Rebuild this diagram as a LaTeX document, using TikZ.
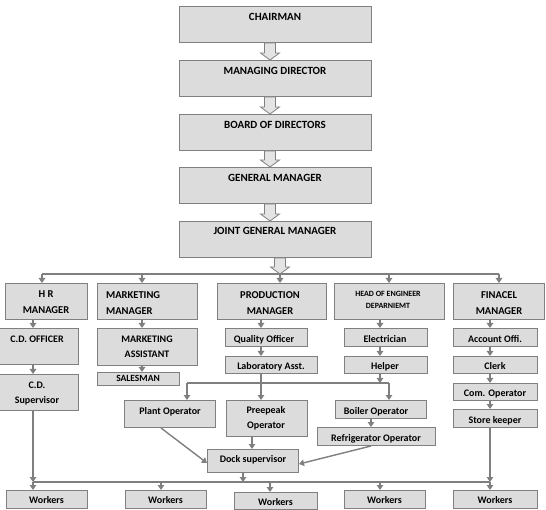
\documentclass[tikz,border=0pt]{standalone}
\usepackage{fontspec}
\setmainfont{Carlito}
\usetikzlibrary{arrows.meta,calc}
\definecolor{boxfill}{HTML}{DCDCDC}
\definecolor{boxline}{HTML}{808080}
\definecolor{lineclr}{HTML}{7F7F7F}
\definecolor{arrfill}{HTML}{E4E4E4}
\newcommand\bx[5]{\node[box,minimum width={(#4-#2)*1pt},minimum height={(#5-#3)*1pt}] (#1) at (#2,#3) {};}
\newcommand\blockarr[2]{\draw[barr] let \p1=(#1),\p2=(#2) in
  (\x1-5.5pt,\y1) -- (\x1+5.5pt,\y1) -- (\x1+5.5pt,\y2+7pt) -- (\x1+9.5pt,\y2+7pt) -- (\x2,\y2)
  -- (\x1-9.5pt,\y2+7pt) -- (\x1-5.5pt,\y2+7pt) -- cycle;}
\begin{document}
\begin{tikzpicture}[x=1pt,y=-1pt,
  box/.style={draw=boxline,fill=boxfill,line width=1pt,inner sep=0pt,anchor=north west},
  big/.style={font=\bfseries\fontsize{11}{16}\selectfont,align=center,inner sep=0pt},
  sm/.style={font=\bfseries\fontsize{10}{14.5}\selectfont,align=center,inner sep=0pt},
  one/.style={text height=6.7pt,text depth=0pt},
  conn/.style={draw=lineclr,line width=1.4pt,-{Triangle[width=6.5pt,length=5pt]}},
  plain/.style={draw=lineclr,line width=1.4pt},
  barr/.style={draw=boxline,fill=arrfill,line width=0.8pt}]
\useasboundingbox (0,0) rectangle (546,510);
% columns
\coordinate (cA) at (270,0);
\coordinate (cB) at (280,0);
\coordinate (cHR) at (42,0);
\coordinate (cMK) at (142,0);
\coordinate (cHE) at (389,0);
\coordinate (cFI) at (499,0);
\coordinate (c33) at (33,0);
\coordinate (c261) at (261,0);
\coordinate (c380) at (380,0);
\coordinate (c490) at (490,0);
\coordinate (c187) at (187,0);
\coordinate (c371) at (371,0);
\coordinate (c252) at (252,0);
\coordinate (c243) at (243,0);
\coordinate (c161) at (161,0);
% boxes
\bx{chair}{179}{6}{371}{42}
\bx{md}{179}{60}{371}{96}
\bx{bod}{179}{114}{371}{150}
\bx{gm}{179}{167}{371}{203}
\bx{jgm}{179}{221}{371}{257}
\bx{hr}{5}{283}{87}{319}
\bx{mkt}{97}{283}{197}{319}
\bx{prod}{217}{283}{326}{319}
\bx{head}{334}{283}{444}{319}
\bx{fin}{453}{283}{544}{319}
\bx{cdo}{-1}{328}{78}{364}
\bx{mka}{97}{328}{197}{365}
\bx{qo}{225}{328}{307}{346}
\bx{ele}{344}{328}{427}{346}
\bx{acc}{453}{328}{537}{346}
\bx{cds}{-1}{374}{78}{410}
\bx{sal}{97}{372}{179}{385}
\bx{lab}{225}{356}{317}{373}
\bx{hel}{344}{356}{427}{373}
\bx{clk}{453}{356}{537}{373}
\bx{com}{453}{383}{537}{400}
\bx{plant}{124}{400}{215}{427}
\bx{pre}{226}{400}{307}{436}
\bx{boil}{335}{400}{426}{418}
\bx{store}{453}{409}{537}{427}
\bx{refr}{317}{427}{435}{445}
\bx{dock}{207}{449}{298}{472}
\bx{w1}{6}{490}{87}{508}
\bx{w2}{125}{490}{206}{508}
\bx{w3}{234}{492}{317}{509}
\bx{w4}{344}{490}{425}{508}
\bx{w5}{453}{490}{537}{508}
% texts
\node[big,one,text height=7pt] (chair-t) at (275,17) {CHAIRMAN};
\node[big,one,text height=7pt] (md-t) at (275,71) {MANAGING DIRECTOR};
\node[big,one,text height=7pt] (bod-t) at (275,125) {BOARD OF DIRECTORS};
\node[big,one,text height=7pt] (gm-t) at (275,178) {GENERAL MANAGER};
\node[big,one,text height=7pt] (jgm-t) at (275,231) {JOINT GENERAL MANAGER};
\node[big,font=\bfseries\fontsize{10.5}{16}\selectfont] (hr-t) at (46,302.5) {H R\\MANAGER};
\node[big,font=\bfseries\fontsize{10.5}{16}\selectfont,align=left,anchor=west] (mkt-t) at (106,303) {MARKETING\\MANAGER};
\node[big,font=\bfseries\fontsize{10.5}{16}\selectfont] (prod-t) at (270,303) {PRODUCTION\\MANAGER};
\node[font=\bfseries\fontsize{8}{12}\selectfont,align=center,inner sep=0pt] (head-t) at (388,300) {HEAD OF ENGINEER\\DEPARNIEMT};
\node[big,font=\bfseries\fontsize{10.5}{16}\selectfont] (fin-t) at (499,303) {FINACEL\\MANAGER};
\node[sm,one] (cdo-t) at (37,339) {C.D. OFFICER};
\node[sm] (mka-t) at (147,347) {MARKETING\\ASSISTANT};
\node[sm,one] (qo-t) at (264,339) {Quality Officer};
\node[sm,one] (ele-t) at (385,339) {Electrician};
\node[sm,one] (acc-t) at (495,339) {Account Offi.};
\node[sm,font=\bfseries\fontsize{10}{15}\selectfont] (cds-t) at (37,393.5) {C.D.\\Supervisor};
\node[sm,one,font=\bfseries\fontsize{9.5}{12}\selectfont,text height=6.1pt] (sal-t) at (138,378.5) {SALESMAN};
\node[sm,one] (lab-t) at (271,366) {Laboratory Asst.};
\node[sm,one] (hel-t) at (385,366) {Helper};
\node[sm,one] (clk-t) at (495,366) {Clerk};
\node[sm,one] (com-t) at (495,393) {Com. Operator};
\node[sm,one] (plant-t) at (170,411) {Plant Operator};
\node[sm] (pre-t) at (266,418.5) {Preepeak\\Operator};
\node[sm,one] (boil-t) at (376,411) {Boiler Operator};
\node[sm,one] (store-t) at (495,420) {Store keeper};
\node[sm,one] (refr-t) at (376,438) {Refrigerator Operator};
\node[sm,one] (dock-t) at (253,459) {Dock supervisor};
\node[sm,one] (w1-t) at (46.5,500) {Workers};
\node[sm,one] (w2-t) at (165.5,500) {Workers};
\node[sm,one] (w3-t) at (275.5,502) {Workers};
\node[sm,one] (w4-t) at (384.5,500) {Workers};
\node[sm,one] (w5-t) at (495,500) {Workers};
% block arrows
\blockarr{chair.south -| cA}{md.north -| cA}
\blockarr{md.south -| cA}{bod.north -| cA}
\blockarr{bod.south -| cA}{gm.north -| cA}
\blockarr{gm.south -| cA}{jgm.north -| cA}
% top bus
\coordinate (busL) at (42,274);
\coordinate (busR) at (499,274);
\draw[plain] (busL) -- (busR);
\blockarr{jgm.south -| cB}{busL -| cB}
\draw[conn] (busL) -- (hr.north -| cHR);
\draw[conn] (busL -| cMK) -- (mkt.north -| cMK);
\draw[conn] (busL -| cB) -- (prod.north -| cB);
\draw[conn] (busL -| cHE) -- (head.north -| cHE);
\draw[conn] (busR) -- (fin.north -| cFI);
% columns
\draw[conn] (hr.south -| c33) -- (cdo.north -| c33);
\draw[conn] (cdo.south -| c33) -- (cds.north -| c33);
\draw[conn] (mkt.south -| cMK) -- (mka.north -| cMK);
\draw[conn] (mka.south -| cMK) -- (sal.north -| cMK);
\draw[conn] (prod.south -| c261) -- (qo.north -| c261);
\draw[conn] (qo.south -| c261) -- (lab.north -| c261);
\draw[conn] (head.south -| c380) -- (ele.north -| c380);
\draw[conn] (ele.south -| c380) -- (hel.north -| c380);
\draw[conn] (fin.south -| c490) -- (acc.north -| c490);
\draw[conn] (acc.south -| c490) -- (clk.north -| c490);
\draw[conn] (clk.south -| c490) -- (com.north -| c490);
\draw[conn] (com.south -| c490) -- (store.north -| c490);
% production bus
\coordinate (pbL) at (187,383);
\coordinate (pbR) at (389,383);
\draw[plain] (pbL) -- (pbR);
\draw[conn] (lab.south -| c261) -- (pre.north -| c261);
\draw[conn] (pbL) -- (plant.north -| c187);
\draw[conn] (pbR) -- (boil.north -| cHE);
\draw[conn] (hel.south -| c380) -- (pbR -| c380);
\draw[conn] (boil.south -| c371) -- (refr.north -| c371);
\draw[conn] (pre.south -| c252) -- (dock.north -| c252);
\draw[conn] (plant.south -| c161) -- ([yshift=-2pt]dock.west);
\draw[conn] (refr.south -| c371) -- ([yshift=-3pt]dock.east);
% workers bus
\coordinate (wbL) at (33,482);
\coordinate (wbR) at (490,482);
\draw[plain] (wbL) -- (wbR);
\draw[conn] (cds.south -| c33) -- (wbL);
\draw[conn] (wbL) -- (w1.north -| c33);
\draw[conn] (store.south -| c490) -- (wbR);
\draw[conn] (wbR) -- (w5.north -| c490);
\draw[conn] (dock.south -| c243) -- (wbL -| c243);
\draw[conn] (wbL -| c161) -- (w2.north -| c161);
\draw[conn] (wbL -| cA) -- (w3.north -| cA);
\draw[conn] (wbL -| c380) -- (w4.north -| c380);
\end{tikzpicture}
\end{document}
